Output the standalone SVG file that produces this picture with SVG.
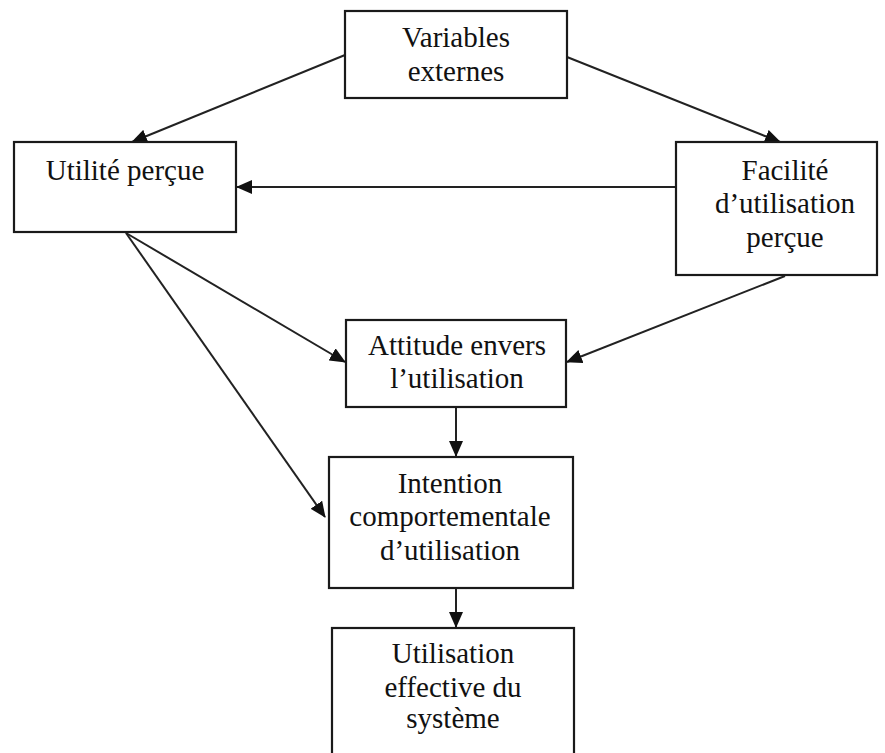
<svg xmlns="http://www.w3.org/2000/svg" width="885" height="753" viewBox="0 0 885 753">
<style>
.box{fill:#fff;stroke:#1a1a1a;stroke-width:2.2}
.t{font-family:"Liberation Serif","Times New Roman",serif;font-size:29px;fill:#111;text-anchor:middle}
.c{stroke:#222;stroke-width:2;fill:none;marker-end:url(#ah)}
</style>
<defs>
<marker id="ah" markerUnits="userSpaceOnUse" markerWidth="16" markerHeight="14" refX="15" refY="7" orient="auto">
<path d="M0,0 L16,7 L0,14 Z" fill="#111"/>
</marker>
</defs>
<rect width="885" height="753" fill="#fff"/>
<g id="connectors">
<line class="c" x1="345" y1="55" x2="132" y2="142"/>
<line class="c" x1="567" y1="57" x2="780" y2="142"/>
<line class="c" x1="676" y1="187" x2="237" y2="187"/>
<line class="c" x1="126" y1="233" x2="345" y2="362"/>
<line class="c" x1="126" y1="233" x2="325" y2="517"/>
<line class="c" x1="785" y1="276" x2="567" y2="362"/>
<line class="c" x1="456" y1="408" x2="456" y2="456"/>
<line class="c" x1="456" y1="589" x2="456" y2="627"/>
</g>
<g id="variables">
<rect class="box" x="345" y="11" width="222" height="87"/>
<text class="t" x="456" y="47">Variables</text>
<text class="t" x="456" y="81">externes</text>
</g>
<g id="utilite">
<rect class="box" x="14" y="142" width="222" height="90"/>
<text class="t" x="125" y="180">Utilité perçue</text>
</g>
<g id="facilite">
<rect class="box" x="676" y="142" width="201" height="133"/>
<text class="t" x="785" y="180">Facilité</text>
<text class="t" x="785" y="213">d’utilisation</text>
<text class="t" x="785" y="247">perçue</text>
</g>
<g id="attitude">
<rect class="box" x="346" y="320" width="220" height="87"/>
<text class="t" x="457" y="355">Attitude envers</text>
<text class="t" x="457" y="388">l’utilisation</text>
</g>
<g id="intention">
<rect class="box" x="329" y="457" width="244" height="131"/>
<text class="t" x="450" y="493">Intention</text>
<text class="t" x="450" y="526">comportementale</text>
<text class="t" x="450" y="560">d’utilisation</text>
</g>
<g id="utilisation">
<rect class="box" x="332" y="628" width="242" height="140"/>
<text class="t" x="453" y="663">Utilisation</text>
<text class="t" x="453" y="697">effective du</text>
<text class="t" x="453" y="728">système</text>
</g>
</svg>
